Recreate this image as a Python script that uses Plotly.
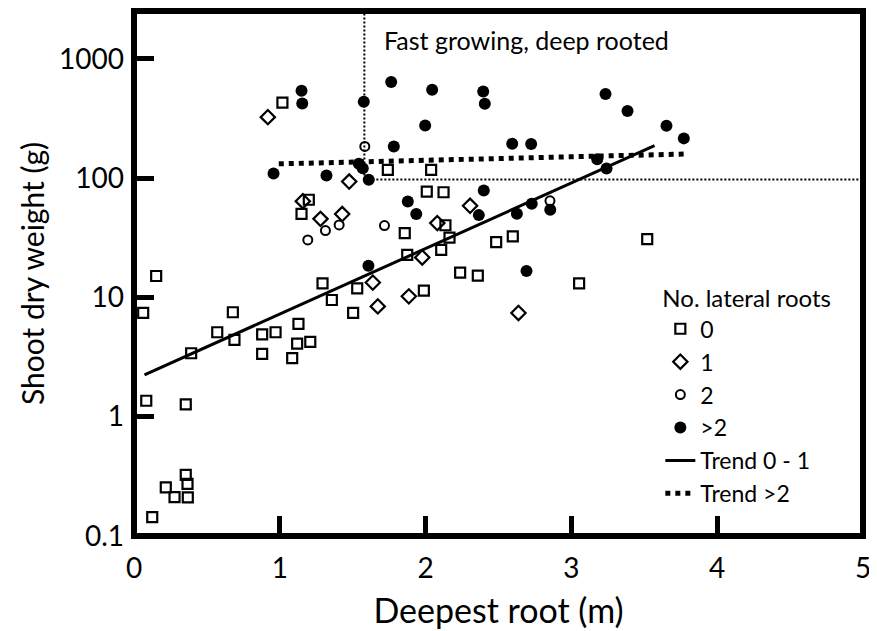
import plotly.graph_objects as go

# ---- data ----
x_lat0 = [1.018, 0.152, 0.063, 0.678, 0.392, 0.571, 0.689, 0.879, 0.971, 0.879,
          1.128, 1.119, 1.209, 1.085, 1.293, 1.357, 1.531, 1.503, 1.199, 1.149,
          1.741, 2.038, 2.008, 2.123, 1.857, 2.136, 2.164, 2.107, 1.874, 2.484,
          2.598, 2.237, 2.358, 3.053, 1.988, 3.520, 0.084, 0.355, 0.355, 0.367,
          0.218, 0.278, 0.369, 0.125]
y_lat0 = [428, 15.1, 7.4, 7.5, 3.4, 5.1, 4.4, 4.9, 5.1, 3.36,
          6.0, 4.1, 4.24, 3.1, 13.1, 9.5, 11.9, 7.4, 65.8, 50,
          117, 117, 77, 76, 34.5, 40.2, 31.7, 25, 22.7, 29,
          32.4, 16.1, 15.2, 13.1, 11.4, 30.8, 1.36, 1.27, 0.325, 0.273,
          0.256, 0.212, 0.211, 0.144]

x_lat1 = [0.918, 1.158, 1.279, 1.428, 1.476, 1.638, 1.672, 2.080, 1.977, 1.885, 2.305, 2.637]
y_lat1 = [324, 64, 45.5, 49.9, 93.5, 13.3, 8.4, 41.9, 21.6, 10.2, 58.5, 7.4]

x_lat2 = [1.583, 1.313, 1.407, 1.192, 1.718, 2.853]
y_lat2 = [184, 36.3, 40.5, 30.3, 40, 64.4]

x_lat3 = [1.149, 1.154, 1.576, 1.542, 1.569, 0.957, 1.320, 1.610, 1.764, 2.045,
          2.395, 2.406, 3.234, 3.385, 1.997, 1.782, 2.594, 2.724, 3.177, 3.241,
          3.652, 3.771, 2.399, 1.878, 1.936, 2.365, 2.626, 2.728, 2.855, 1.608,
          2.692]
y_lat3 = [539, 422, 435, 131.6, 121, 109, 105, 96.6, 638, 550,
          532, 420, 506, 364, 276, 184, 194, 193, 144, 120,
          274, 215, 78.7, 63.5, 49.9, 48.9, 50.1, 60.8, 54.2, 18.4,
          16.6]

trend01_x = [0.072, 3.570]
trend01_y = [2.24, 187]
trend2_x = [0.993, 3.776]
trend2_y = [131.5, 159]

deep_threshold = 1.58      # m
fast_threshold = 97        # g
x_max = 5
y_top = 10 ** 3.4

x_ticks = [0, 1, 2, 3, 4, 5]
y_ticks = [0.1, 1, 10, 100, 1000]
y_tick_text = ["0.1", "1", "10", "100", "1000"]

FONT = "Lato"
BLACK = "#000000"

fig = go.Figure()

# threshold guide lines (dotted, thin)
fig.add_trace(go.Scatter(x=[deep_threshold, deep_threshold], y=[fast_threshold, y_top],
                         mode="lines", line=dict(color=BLACK, width=2, dash="2px,2px"),
                         showlegend=False, hoverinfo="skip"))
fig.add_trace(go.Scatter(x=[deep_threshold, x_max], y=[fast_threshold, fast_threshold],
                         mode="lines", line=dict(color=BLACK, width=2, dash="2px,2px"),
                         showlegend=False, hoverinfo="skip"))

fig.add_trace(go.Scatter(x=x_lat0, y=y_lat0, mode="markers", name="0",
                         marker=dict(symbol="square-open", size=10, color=BLACK,
                                     line=dict(width=2.2, color=BLACK))))
fig.add_trace(go.Scatter(x=x_lat1, y=y_lat1, mode="markers", name="1",
                         marker=dict(symbol="diamond-open", size=11, color=BLACK,
                                     line=dict(width=2.2, color=BLACK))))
fig.add_trace(go.Scatter(x=x_lat2, y=y_lat2, mode="markers", name="2",
                         marker=dict(symbol="circle-open", size=9, color=BLACK,
                                     line=dict(width=2, color=BLACK))))
fig.add_trace(go.Scatter(x=x_lat3, y=y_lat3, mode="markers", name=">2",
                         marker=dict(symbol="circle", size=12, color=BLACK,
                                     line=dict(width=0))))
fig.add_trace(go.Scatter(x=trend01_x, y=trend01_y, mode="lines", name="Trend 0 - 1",
                         line=dict(color=BLACK, width=3)))
fig.add_trace(go.Scatter(x=trend2_x, y=trend2_y, mode="lines", name="Trend >2",
                         line=dict(color=BLACK, width=5, dash="dot")))

fig.add_annotation(x=deep_threshold, xref="x", y=1, yref="y domain",
                   text="Fast growing, deep rooted", showarrow=False,
                   xanchor="left", yanchor="middle", xshift=18, yshift=-29,
                   font=dict(family=FONT, size=25, color=BLACK))

# frame
fig.add_shape(type="rect", xref="x domain", yref="y domain", x0=0, x1=1, y0=0, y1=1,
              line=dict(color=BLACK, width=6), layer="above")

fig.update_layout(
    width=877, height=631,
    margin=dict(l=126, r=22, t=3, b=103),
    paper_bgcolor="white", plot_bgcolor="white",
    font=dict(family=FONT, color=BLACK),
    showlegend=True,
    legend=dict(
        x=0.722, y=0.495, xanchor="left", yanchor="top",
        bgcolor="rgba(0,0,0,0)",
        title=dict(text="No. lateral roots", font=dict(family=FONT, size=24, color=BLACK)),
        font=dict(family=FONT, size=23, color=BLACK),
        traceorder="normal",
    ),
    xaxis=dict(
        range=[0, x_max], tickvals=x_ticks, ticks="inside", ticklen=20, tickwidth=5,
        tickcolor=BLACK, showgrid=False, zeroline=False, showline=False,
        tickfont=dict(family=FONT, size=28, color=BLACK), ticklabelstandoff=13,
        title=dict(text="Deepest root (m)", font=dict(family=FONT, size=34, color=BLACK),
                   standoff=16),
    ),
    yaxis=dict(
        type="log", range=[-1, 3.4], tickvals=y_ticks, ticktext=y_tick_text,
        ticks="inside", ticklen=20, tickwidth=5, tickcolor=BLACK,
        showgrid=False, zeroline=False, showline=False,
        tickfont=dict(family=FONT, size=28, color=BLACK), ticklabelstandoff=9,
        title=dict(text="Shoot dry weight (g)", font=dict(family=FONT, size=30, color=BLACK),
                   standoff=5),
    ),
)

fig.write_html("out.html")
